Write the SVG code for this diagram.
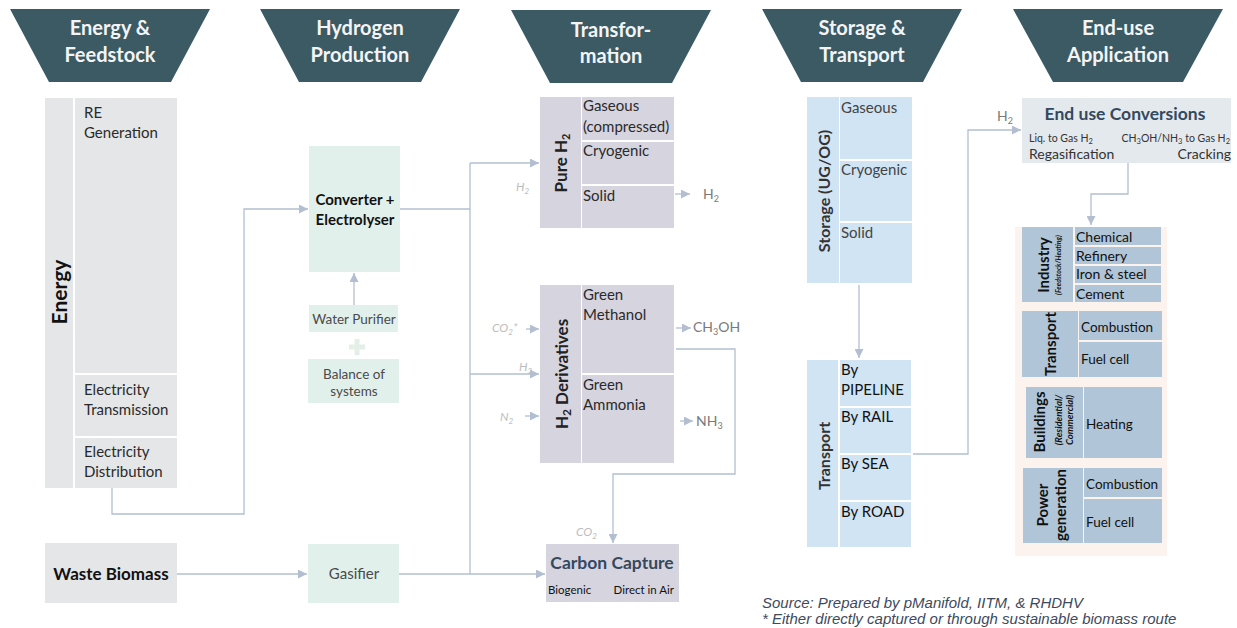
<svg xmlns="http://www.w3.org/2000/svg" width="1237" height="628" viewBox="0 0 1237 628">
  <defs>
    <marker id="arr" viewBox="0 0 10 10" refX="10" refY="5" markerWidth="9" markerHeight="9" markerUnits="userSpaceOnUse" orient="auto">
      <path d="M0,0 L10,5 L0,10 z" fill="#b3bfd0"/>
    </marker>
    <style>
      .hdr { fill: #3b5a64; }
      .hdrt { font-family: Lato, "Liberation Sans", sans-serif; font-weight: bold; font-size: 20px; fill: #f4f4f4; text-anchor: middle; }
      .t { font-family: Lato, "Liberation Sans", sans-serif; font-size: 15px; fill: #2a2a2a; }
      .tb { font-family: Lato, "Liberation Sans", sans-serif; font-weight: bold; fill: #111; }
      .mid { text-anchor: middle; }
      .end { text-anchor: end; }
      .gray { fill: #e4e6e8; }
      .mint { fill: #e2f0ec; }
      .lav { fill: #d6d4df; }
      .blue { fill: #d0e4f4; }
      .steel { fill: #b0c5d7; }
      .conn { fill: none; stroke: #b3bfd0; stroke-width: 1.3; }
      .lbl { font-family: Lato, "Liberation Sans", sans-serif; font-style: italic; font-size: 12px; fill: #bdbdbd; }
      .out { font-family: Lato, "Liberation Sans", sans-serif; font-size: 14px; fill: #7a7a7a; }
      .note { font-family: "Liberation Sans", Arial, sans-serif; font-style: italic; font-size: 15px; fill: #3d4a5c; }
      .dark { fill: #111; }
      .mute { fill: #4a4a4a; }
      .slate { fill: #34495e; }
    </style>
  </defs>

  <rect width="1237" height="628" fill="#ffffff"/>

  <!-- column headers -->
  <g id="headers">
    <g id="hdr-energy">
      <path class="hdr" d="M10,9 H210 L171,82 H49 z"/>
      <text class="hdrt" x="110" y="35">Energy &amp;</text>
      <text class="hdrt" x="110" y="62">Feedstock</text>
    </g>
    <g id="hdr-production">
      <path class="hdr" d="M260,9 H460 L421,82 H299 z"/>
      <text class="hdrt" x="360" y="35">Hydrogen</text>
      <text class="hdrt" x="360" y="62">Production</text>
    </g>
    <g id="hdr-transformation">
      <path class="hdr" d="M511,10 H711 L672,83 H550 z"/>
      <text class="hdrt" x="611" y="37">Transfor-</text>
      <text class="hdrt" x="611" y="63">mation</text>
    </g>
    <g id="hdr-storage">
      <path class="hdr" d="M762,9 H962 L923,82 H801 z"/>
      <text class="hdrt" x="862" y="35">Storage &amp;</text>
      <text class="hdrt" x="862" y="62">Transport</text>
    </g>
    <g id="hdr-enduse">
      <path class="hdr" d="M1013,9 H1223 L1183,82 H1053 z"/>
      <text class="hdrt" x="1118" y="35">End-use</text>
      <text class="hdrt" x="1118" y="62">Application</text>
    </g>
  </g>

  <!-- connectors -->
  <g id="connectors">
    <polyline class="conn" points="112,488 112,514 244,514 244,209 308,209" marker-end="url(#arr)"/>
    <line class="conn" x1="354" y1="305" x2="354" y2="273" marker-end="url(#arr)"/>
    <line class="conn" x1="177" y1="574" x2="307" y2="574" marker-end="url(#arr)"/>
    <polyline class="conn" points="400,209 470,209"/>
    <line class="conn" x1="470" y1="163" x2="470" y2="574"/>
    <polyline class="conn" points="470,163 539,163" marker-end="url(#arr)"/>
    <polyline class="conn" points="470,374 539,374" marker-end="url(#arr)"/>
    <polyline class="conn" points="399,574 545,574" marker-end="url(#arr)"/>
    <line class="conn" x1="526" y1="329" x2="539" y2="329" marker-end="url(#arr)"/>
    <line class="conn" x1="525" y1="416" x2="539" y2="416" marker-end="url(#arr)"/>
    <line class="conn" x1="675" y1="194" x2="690" y2="194" marker-end="url(#arr)"/>
    <line class="conn" x1="676" y1="328" x2="691" y2="328" marker-end="url(#arr)"/>
    <line class="conn" x1="680" y1="421" x2="693" y2="421" marker-end="url(#arr)"/>
    <polyline class="conn" points="676,349 735,349 735,474 613,474 613,543" marker-end="url(#arr)"/>
    <line class="conn" x1="859" y1="285" x2="859" y2="358" marker-end="url(#arr)"/>
    <polyline class="conn" points="913,454 968,454 968,130 1021,130" marker-end="url(#arr)"/>
    <polyline class="conn" points="1128,163 1128,194 1091,194 1091,225" marker-end="url(#arr)"/>
  </g>

  <!-- energy & feedstock -->
  <g id="energy">
    <rect class="gray" x="45" y="98" width="28" height="390"/>
    <rect class="gray" x="75" y="98" width="102" height="275"/>
    <rect class="gray" x="75" y="375" width="102" height="61"/>
    <rect class="gray" x="75" y="438" width="102" height="50"/>
    <text class="tb" font-size="21" transform="translate(67,292) rotate(-90)" text-anchor="middle">Energy</text>
    <text class="t" x="84" y="118">RE</text>
    <text class="t" x="84" y="138">Generation</text>
    <text class="t" x="84" y="395">Electricity</text>
    <text class="t" x="84" y="415">Transmission</text>
    <text class="t" x="84" y="457">Electricity</text>
    <text class="t" x="84" y="477">Distribution</text>
  </g>
  <g id="waste-biomass">
    <rect class="gray" x="45" y="543" width="132" height="60"/>
    <text class="tb mid" font-size="17" x="111" y="580">Waste Biomass</text>
  </g>

  <!-- hydrogen production -->
  <g id="electrolyser">
    <rect class="mint" x="309" y="146" width="91" height="126"/>
    <text class="tb mid" font-size="15" x="355" y="205">Converter +</text>
    <text class="tb mid" font-size="15" x="355" y="225">Electrolyser</text>
  </g>
  <g id="water-purifier">
    <rect class="mint" x="309" y="305" width="89" height="27"/>
    <text class="t mid mute" x="354" y="324" style="font-size:13.5px">Water Purifier</text>
  </g>
  <g id="plus">
    <path d="M357,339 V355 M349,347 H365" stroke="#e4efe7" stroke-width="5" fill="none"/>
  </g>
  <g id="balance">
    <rect class="mint" x="308" y="359" width="91" height="44"/>
    <text class="t mid mute" x="354" y="379" style="font-size:13.5px">Balance of</text>
    <text class="t mid mute" x="354" y="396" style="font-size:13.5px">systems</text>
  </g>
  <g id="gasifier">
    <rect class="mint" x="308" y="544" width="91" height="59"/>
    <text class="t mid mute" x="354" y="579">Gasifier</text>
  </g>

  <!-- transformation -->
  <g id="pure-h2">
    <rect class="lav" x="540" y="97" width="41" height="131"/>
    <rect class="lav" x="582" y="97" width="92" height="43"/>
    <rect class="lav" x="582" y="142" width="92" height="42"/>
    <rect class="lav" x="582" y="186" width="92" height="42"/>
    <text class="tb" font-size="17" transform="translate(567,163) rotate(-90)" text-anchor="middle" style="fill:#222">Pure H<tspan font-size="11" dy="3">2</tspan></text>
    <text class="t" x="583" y="111">Gaseous</text>
    <text class="t" x="583" y="132">(compressed)</text>
    <text class="t" x="583" y="156">Cryogenic</text>
    <text class="t" x="583" y="201">Solid</text>
    <text class="lbl" x="516" y="191">H<tspan font-size="8" dy="3">2</tspan></text>
    <text class="out" x="703" y="199">H<tspan font-size="9" dy="3">2</tspan></text>
  </g>
  <g id="h2-derivatives">
    <rect class="lav" x="540" y="285" width="41" height="178"/>
    <rect class="lav" x="582" y="285" width="92" height="88"/>
    <rect class="lav" x="582" y="375" width="92" height="88"/>
    <text class="tb" font-size="17" transform="translate(568,374) rotate(-90)" text-anchor="middle" style="fill:#222">H<tspan font-size="12" dy="3">2</tspan><tspan dy="-3"> Derivatives</tspan></text>
    <text class="t" x="583" y="300">Green</text>
    <text class="t" x="583" y="320">Methanol</text>
    <text class="t" x="583" y="390">Green</text>
    <text class="t" x="583" y="410">Ammonia</text>
    <text class="lbl" x="492" y="332">CO<tspan font-size="8" dy="3">2</tspan><tspan dy="-3">*</tspan></text>
    <text class="lbl" x="519" y="371">H<tspan font-size="8" dy="3">2</tspan></text>
    <text class="lbl" x="500" y="421">N<tspan font-size="8" dy="3">2</tspan></text>
    <text class="out" x="693" y="332">CH<tspan font-size="9" dy="3">3</tspan><tspan dy="-3">OH</tspan></text>
    <text class="out" x="696" y="426">NH<tspan font-size="9" dy="3">3</tspan></text>
  </g>
  <g id="carbon-capture">
    <rect class="lav" x="546" y="544" width="133" height="58"/>
    <text class="tb mid slate" font-size="17.5" x="612" y="569">Carbon Capture</text>
    <text class="t dark" x="548" y="594" style="font-size:11.5px">Biogenic</text>
    <text class="t end dark" x="674" y="594" style="font-size:11.5px">Direct in Air</text>
    <text class="lbl" x="576" y="536">CO<tspan font-size="8" dy="3">2</tspan></text>
  </g>

  <!-- storage & transport -->
  <g id="storage">
    <rect class="blue" x="807" y="97" width="32" height="186"/>
    <rect class="blue" x="840" y="97" width="72" height="62"/>
    <rect class="blue" x="840" y="161" width="72" height="60"/>
    <rect class="blue" x="840" y="223" width="72" height="60"/>
    <text class="tb" font-size="16" transform="translate(830,191) rotate(-90)" text-anchor="middle" style="fill:#333">Storage (UG/OG)</text>
    <text class="t" x="841" y="113" style="fill:#444">Gaseous</text>
    <text class="t" x="841" y="175" style="fill:#444">Cryogenic</text>
    <text class="t" x="841" y="238" style="fill:#444">Solid</text>
  </g>
  <g id="transport">
    <rect class="blue" x="807" y="360" width="31" height="187"/>
    <rect class="blue" x="840" y="360" width="71" height="46"/>
    <rect class="blue" x="840" y="408" width="71" height="45"/>
    <rect class="blue" x="840" y="455" width="71" height="45"/>
    <rect class="blue" x="840" y="502" width="71" height="45"/>
    <text class="tb" font-size="16" transform="translate(830,456) rotate(-90)" text-anchor="middle" style="fill:#333">Transport</text>
    <text class="t dark" x="841" y="375">By</text>
    <text class="t dark" x="841" y="395">PIPELINE</text>
    <text class="t dark" x="841" y="422">By RAIL</text>
    <text class="t dark" x="841" y="469">By SEA</text>
    <text class="t dark" x="841" y="517">By ROAD</text>
  </g>

  <!-- end-use application -->
  <g id="end-use-conversions">
    <rect x="1022" y="98" width="209" height="65" fill="#e4e9ee"/>
    <text class="tb mid slate" font-size="17.5" x="1125" y="120">End use Conversions</text>
    <text class="t" x="1029" y="142" style="font-size:10.5px;fill:#333">Liq. to Gas H<tspan style="font-size:7.5px" dy="2">2</tspan></text>
    <text class="t end" x="1230" y="142" style="font-size:10.5px;fill:#333">CH<tspan style="font-size:7.5px" dy="2">3</tspan><tspan dy="-2">OH/NH</tspan><tspan style="font-size:7.5px" dy="2">3</tspan><tspan dy="-2"> to Gas H</tspan><tspan style="font-size:7.5px" dy="2">2</tspan></text>
    <text class="t" x="1029" y="159" style="font-size:14px;fill:#333">Regasification</text>
    <text class="t end" x="1231" y="159" style="font-size:14px;fill:#333">Cracking</text>
    <text class="out" x="997" y="121">H<tspan font-size="9" dy="3">2</tspan></text>
  </g>
  <g id="applications">
    <rect x="1015" y="227" width="152" height="329" fill="#fdf3ee"/>
  </g>
  <g id="industry">
    <rect class="steel" x="1022" y="227" width="51" height="75"/>
    <rect class="steel" x="1075" y="227" width="86" height="18"/>
    <rect class="steel" x="1075" y="247" width="86" height="17"/>
    <rect class="steel" x="1075" y="266" width="86" height="17"/>
    <rect class="steel" x="1075" y="285" width="86" height="17"/>
    <text class="tb" font-size="15" transform="translate(1049,265) rotate(-90)" text-anchor="middle">Industry</text>
    <text class="tb" font-size="7" font-style="italic" transform="translate(1061,265) rotate(-90)" text-anchor="middle">(Feedstock/Heating)</text>
    <text class="t dark" x="1076" y="242" style="font-size:14px">Chemical</text>
    <text class="t dark" x="1076" y="261" style="font-size:14px">Refinery</text>
    <text class="t dark" x="1076" y="279" style="font-size:14px">Iron &amp; steel</text>
    <text class="t dark" x="1076" y="299" style="font-size:14px">Cement</text>
  </g>
  <g id="transport-use">
    <rect class="steel" x="1022" y="311" width="56" height="66"/>
    <rect class="steel" x="1079" y="311" width="83" height="29"/>
    <rect class="steel" x="1079" y="342" width="83" height="35"/>
    <text class="tb" font-size="15" transform="translate(1056,344) rotate(-90)" text-anchor="middle">Transport</text>
    <text class="t dark" x="1081" y="332" style="font-size:13.5px">Combustion</text>
    <text class="t dark" x="1081" y="364" style="font-size:13.5px">Fuel cell</text>
  </g>
  <g id="buildings">
    <rect class="steel" x="1026" y="387" width="57" height="71"/>
    <rect class="steel" x="1084" y="387" width="78" height="71"/>
    <text class="tb" font-size="15" transform="translate(1045,422) rotate(-90)" text-anchor="middle">Buildings</text>
    <text class="tb" font-size="9.5" font-style="italic" transform="translate(1062,420) rotate(-90)" text-anchor="middle">(Residential/</text>
    <text class="tb" font-size="9.5" font-style="italic" transform="translate(1073,420) rotate(-90)" text-anchor="middle">Commercial)</text>
    <text class="t dark" x="1086" y="429" style="font-size:13.5px">Heating</text>
  </g>
  <g id="power-generation">
    <rect class="steel" x="1023" y="468" width="60" height="75"/>
    <rect class="steel" x="1084" y="468" width="78" height="29"/>
    <rect class="steel" x="1084" y="499" width="78" height="44"/>
    <text class="tb" font-size="15" transform="translate(1048,505) rotate(-90)" text-anchor="middle">Power</text>
    <text class="tb" font-size="15" transform="translate(1066,505) rotate(-90)" text-anchor="middle">generation</text>
    <text class="t dark" x="1086" y="489" style="font-size:13.5px">Combustion</text>
    <text class="t dark" x="1086" y="527" style="font-size:13.5px">Fuel cell</text>
  </g>

  <!-- notes -->
  <g id="notes">
    <text class="note" x="762" y="608">Source: Prepared by pManifold, IITM, &amp; RHDHV</text>
    <text class="note" x="762" y="624">* Either directly captured or through sustainable biomass route</text>
  </g>
</svg>
